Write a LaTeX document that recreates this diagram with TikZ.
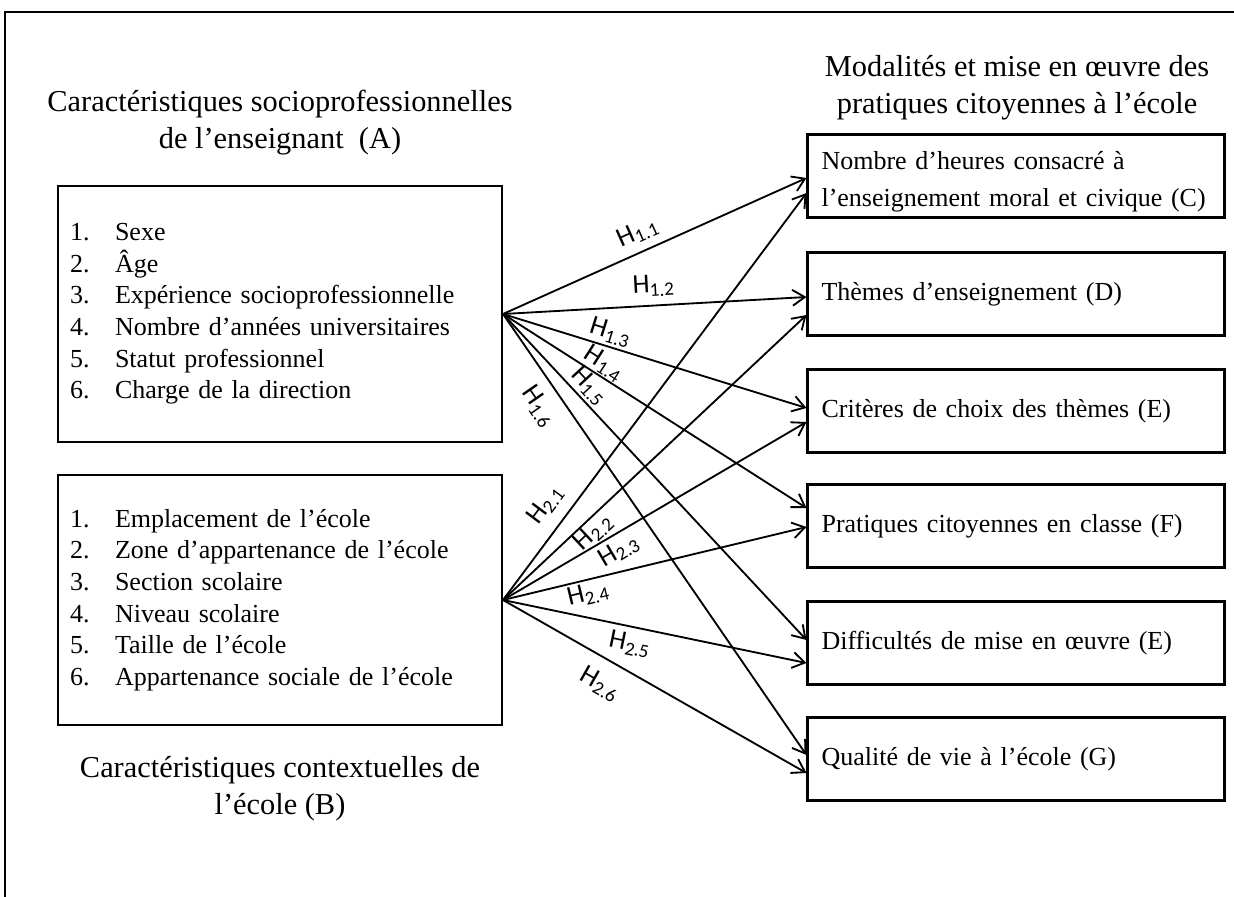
\documentclass[tikz,border=0pt]{standalone}
\usepackage{fontspec}
\setmainfont{Liberation Serif}
\setsansfont{Carlito}
\usetikzlibrary{positioning}
\usetikzlibrary{arrows.meta}
\usetikzlibrary{calc}

\tikzset{
  box/.style={draw, line width=1.2pt, inner ysep=0pt, align=left},
  leftbox/.style={box, text width=8.4cm, inner xsep=0.24cm, font=\fontsize{14.8}{18}\selectfont},
  rightbox/.style={box, minimum height=1.66cm, text width=7.78cm, inner xsep=0.28cm, font=\fontsize{14.8}{21}\selectfont},
  titre/.style={align=center, font=\fontsize{17.3}{21}\selectfont},
  hyp/.style={-{Straight Barb[length=7pt,width=9pt]}, line width=1.05pt},
  hlab/.style={font=\sffamily\fontsize{15.5}{16}\selectfont, sloped, inner sep=1.5pt},
}
\newcommand{\numit}[2]{\makebox[0.9cm][l]{#1.}#2}

\begin{document}
\begin{tikzpicture}[x=0.02cm, y=-0.02cm]
                    \clip (0,0) rectangle (1234,896);
                    \draw[line width=1.2pt] (5,12) rectangle (1260,920);
                    % titles
                    \node at (280,123) [titre] (ntitA) {Caractéristiques socioprofessionnelles\\de l’enseignant\ \ (A)};
                    \node at (280,789) [titre] (ntitB) {Caractéristiques contextuelles de\\l’école (B)};
                    \node at (1017,88) [titre] (ntitR) {Modalités et mise en œuvre des\\pratiques citoyennes à l’école};
                    % teacher box
                    \node at (280,314) [leftbox, minimum height=5.12cm] (nsocio)
                    {\numit{1}{Sexe}\\ \numit{2}{Âge}\\ \numit{3}{Expérience socioprofessionnelle}\\
                     \numit{4}{Nombre d’années universitaires}\\ \numit{5}{Statut professionnel}\\
                     \numit{6}{Charge de la direction}};
                    % school box
                    \node at (280,600) [leftbox, minimum height=5.0cm] (ncontx)
                    {\numit{1}{Emplacement de l’école}\\ \numit{2}{Zone d’appartenance de l’école}\\
                     \numit{3}{Section scolaire}\\ \numit{4}{Niveau scolaire}\\
                     \numit{5}{Taille de l’école}\\ \numit{6}{Appartenance sociale de l’école}};
                    % practice boxes
                    \node at (1016,176) [rightbox] (nheures) {\rule{0pt}{17pt}Nombre d’heures consacré à\\l’enseignement moral et civique (C)};
                    \node at (1016,294) [rightbox] (nthemes) {Thèmes d’enseignement (D)};
                    \node at (1016,411) [rightbox] (ncriter) {Critères de choix des thèmes (E)};
                    \node at (1016,526) [rightbox] (npratiq) {Pratiques citoyennes en classe (F)};
                    \node at (1016,643) [rightbox] (ndiffic) {Difficultés de mise en œuvre (E)};
                    \node at (1016,759) [rightbox] (nqualit) {Qualité de vie à l’école (G)};
                    % hypotheses from (A)
                    \draw[hyp] (nsocio.east) -- ($(nheures.west)+(0,2)$)  node[hlab,pos=.47,above=3pt] {H\textsubscript{1.1}};
                    \draw[hyp] (nsocio.east) -- ($(nthemes.west)+(0,3)$)  node[hlab,pos=.5,above=3pt] {H\textsubscript{1.2}};
                    \draw[hyp] (nsocio.east) -- ($(ncriter.west)+(0,-3)$) node[hlab,pos=.34,above] {H\textsubscript{1.3}};
                    \draw[hyp] (nsocio.east) -- ($(npratiq.west)+(0,-18)$) node[hlab,pos=.31,above=-1pt] {H\textsubscript{1.4}};
                    \draw[hyp] (nsocio.east) -- ($(ndiffic.west)+(0,-3)$) node[hlab,pos=.25,above] {H\textsubscript{1.5}};
                    \draw[hyp] (nsocio.east) -- ($(nqualit.west)+(0,-4)$) node[hlab,pos=.18,below=5pt] {H\textsubscript{1.6}};
                    % hypotheses from (B)
                    \draw[hyp] (ncontx.east) -- ($(nheures.west)+(0,17)$) node[hlab,pos=.2,above=5pt] {H\textsubscript{2.1}};
                    \draw[hyp] (ncontx.east) -- ($(nthemes.west)+(0,21)$) node[hlab,pos=.27,below=-1pt] {H\textsubscript{2.2}};
                    \draw[hyp] (ncontx.east) -- ($(ncriter.west)+(0,11)$) node[hlab,pos=.355,below=1pt] {H\textsubscript{2.3}};
                    \draw[hyp] (ncontx.east) -- ($(npratiq.west)+(0,1)$)  node[hlab,pos=.27,below] {H\textsubscript{2.4}};
                    \draw[hyp] (ncontx.east) -- ($(ndiffic.west)+(0,20)$) node[hlab,pos=.43,below=2pt] {H\textsubscript{2.5}};
                    \draw[hyp] (ncontx.east) -- ($(nqualit.west)+(0,14)$) node[hlab,pos=.36,below=6pt] {H\textsubscript{2.6}};
\end{tikzpicture}
\end{document}
